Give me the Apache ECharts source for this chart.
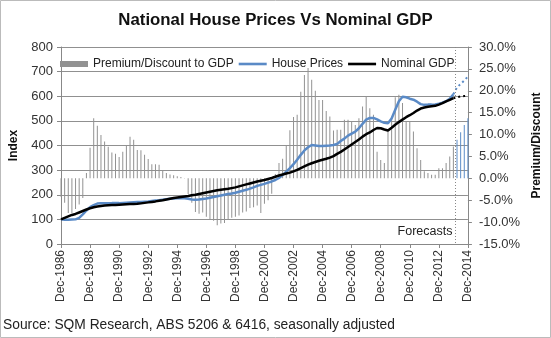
<!DOCTYPE html>
<html><head><meta charset="utf-8">
<script src="https://cdn.jsdelivr.net/npm/echarts@6/dist/echarts.min.js"></script>
<style>html,body{margin:0;padding:0;background:#fff}#c{width:551px;height:338px}</style>
</head><body><div id="c"></div>
<script>
const categories = ["Dec-1986",
"Mar-1987","Jun-1987","Sep-1987","Dec-1987","Mar-1988","Jun-1988","Sep-1988","Dec-1988",
"Mar-1989","Jun-1989","Sep-1989","Dec-1989","Mar-1990","Jun-1990","Sep-1990","Dec-1990",
"Mar-1991","Jun-1991","Sep-1991","Dec-1991","Mar-1992","Jun-1992","Sep-1992","Dec-1992",
"Mar-1993","Jun-1993","Sep-1993","Dec-1993","Mar-1994","Jun-1994","Sep-1994","Dec-1994",
"Mar-1995","Jun-1995","Sep-1995","Dec-1995","Mar-1996","Jun-1996","Sep-1996","Dec-1996",
"Mar-1997","Jun-1997","Sep-1997","Dec-1997","Mar-1998","Jun-1998","Sep-1998","Dec-1998",
"Mar-1999","Jun-1999","Sep-1999","Dec-1999","Mar-2000","Jun-2000","Sep-2000","Dec-2000",
"Mar-2001","Jun-2001","Sep-2001","Dec-2001","Mar-2002","Jun-2002","Sep-2002","Dec-2002",
"Mar-2003","Jun-2003","Sep-2003","Dec-2003","Mar-2004","Jun-2004","Sep-2004","Dec-2004",
"Mar-2005","Jun-2005","Sep-2005","Dec-2005","Mar-2006","Jun-2006","Sep-2006","Dec-2006",
"Mar-2007","Jun-2007","Sep-2007","Dec-2007","Mar-2008","Jun-2008","Sep-2008","Dec-2008",
"Mar-2009","Jun-2009","Sep-2009","Dec-2009","Mar-2010","Jun-2010","Sep-2010","Dec-2010",
"Mar-2011","Jun-2011","Sep-2011","Dec-2011","Mar-2012","Jun-2012","Sep-2012","Dec-2012",
"Mar-2013","Jun-2013","Sep-2013","Dec-2013","Mar-2014","Jun-2014","Sep-2014","Dec-2014"];

// Premium/Discount to GDP (%), quarterly; last 4 are forecasts
const premium = [-4.2,
-5.6,-7.9,-7.9,-7.0,-6.0,-4.5,1.2,7.0,
13.7,12.0,9.9,8.4,7.2,5.9,5.6,4.9,
6.1,7.4,9.5,8.8,6.5,6.4,5.4,4.4,
3.2,3.2,3.1,1.9,1.2,0.9,0.7,0.5,
0.3,0.1,-3.6,-5.6,-7.7,-8.1,-7.8,-8.8,
-9.5,-9.7,-10.7,-10.3,-10.2,-9.5,-9.0,-8.8,
-8.5,-7.8,-7.6,-6.8,-6.6,-6.2,-7.9,-5.8,
-5.0,-3.5,1.0,3.5,4.5,7.5,11.0,14.0,
14.5,19.8,23.6,25.2,22.5,20.0,17.9,17.9,
15.4,14.1,10.9,11.1,11.1,13.4,13.4,13.0,
12.2,13.7,16.4,18.7,16.0,14.5,6.1,4.2,
3.5,11.1,13.7,18.5,19.1,17.2,13.0,13.0,
10.7,6.9,4.2,1.6,1.2,0.8,0.8,2.3,
2.3,3.5,5.0,7.3,8.8,10.5,12.2,13.7];

const housePrices = [100,
98,98,99,100,106,120,136,150,
158,164,165,165,165,166,166,166,
167,168,169,170,171,171,172,173,
175,177,178,180,182,184,185,186,
187,186,184,181,180,181,183,185,
188,191,194,197,200,203,205,208,
212,216,220,225,230,236,240,244,
249,254,260,268,280,294,308,324,
342,362,380,393,402,400,398,398,
399,400,402,406,418,428,440,448,
456,470,488,505,512,512,506,498,
492,490,510,545,580,598,596,590,
586,578,568,565,566,566,567,570,
574,580,590,608,636,650,664,680,696];

const nominalGDP = [100,
106,112,118,122,128,134,140,145,
149,152,154,156,157,158,158,159,
160,161,162,162,163,165,167,169,
171,173,176,178,181,184,187,189,
191,193,195,198,200,203,206,209,
212,215,218,220,222,224,227,230,
234,238,242,246,250,254,257,260,
264,268,273,278,282,286,290,295,
301,308,315,322,328,333,338,342,
346,351,357,366,374,384,394,404,
414,424,436,446,453,463,471,470,
465,461,472,484,495,505,515,523,
532,542,550,554,557,559,561,566,
572,579,585,592,596,599,601,603];

const lastActual = 108; // Dec-2013
const leftTicks = {min:0, max:800, interval:100};
const rightTicks = {min:-15, max:30, interval:5};

const FONT = 'Liberation Sans';
const houseActual = housePrices.map((v,i)=> i<=lastActual ? v : null);
const houseFc = housePrices.map((v,i)=> i>=lastActual ? v : null);
const gdpActual = nominalGDP.map((v,i)=> i<=lastActual ? v : null);
const gdpFc = nominalGDP.map((v,i)=> i>=lastActual ? v : null);
const barData = premium.map((v,i)=> i>lastActual ? {value:v, itemStyle:{color:'#5b8cc8'}} : v);

const LINE_ICON = 'path://M0,0 L28,0 L28,2.6 L0,2.6 Z';
const chart = echarts.init(document.getElementById('c'), null, {renderer:'canvas'});
const option = {
  animation:false,
  backgroundColor:'#fff',
  textStyle:{fontFamily:FONT},
  title:{text:'National House Prices Vs Nominal GDP', left:'center', top:7,
    textStyle:{fontFamily:FONT, fontSize:16.8, fontWeight:'bold', color:'#111'}},
  legend:{left:55, top:53, itemWidth:28, itemHeight:6, itemGap:5,
    textStyle:{fontFamily:FONT, fontSize:12, color:'#222'},
    data:[{name:'Premium/Discount to GDP', icon:'rect'},
          {name:'House Prices', icon:LINE_ICON},
          {name:'Nominal GDP', icon:LINE_ICON}]},
  grid:{left:59, right:79, top:47, bottom:94, containLabel:false},
  xAxis:{type:'category', data:categories, boundaryGap:false,
    axisLine:{lineStyle:{color:'#888'}},
    axisTick:{interval:7, length:4, lineStyle:{color:'#888'}},
    axisLabel:{interval:7, rotate:90, margin:6, fontFamily:FONT, fontSize:12, color:'#333'}},
  yAxis:[
    {type:'value', min:leftTicks.min, max:leftTicks.max, interval:leftTicks.interval,
     name:'Index', nameLocation:'middle', nameGap:41, nameRotate:90,
     nameTextStyle:{fontFamily:FONT, fontSize:12, fontWeight:'bold', color:'#111'},
     axisLine:{show:true, lineStyle:{color:'#888'}},
     axisTick:{show:true, length:4, lineStyle:{color:'#888'}},
     axisLabel:{margin:8, fontFamily:FONT, fontSize:13, color:'#333'},
     splitLine:{show:true, lineStyle:{color:'#909090', width:1}}},
    {type:'value', min:rightTicks.min, max:rightTicks.max, interval:rightTicks.interval,
     position:'right',
     name:'Premium/Discount', nameLocation:'middle', nameGap:58, nameRotate:90,
     nameTextStyle:{fontFamily:FONT, fontSize:12, fontWeight:'bold', color:'#111'},
     axisLine:{show:true, lineStyle:{color:'#888'}},
     axisTick:{show:true, length:4, lineStyle:{color:'#888'}},
     axisLabel:{margin:11, fontFamily:FONT, fontSize:13, color:'#333',
       formatter:v=>v.toFixed(1)+'%'},
     splitLine:{show:false}}
  ],
  series:[
    {name:'Premium/Discount to GDP', type:'bar', yAxisIndex:1, data:barData,
     barWidth:1, itemStyle:{color:'#929292'}},
    {name:'House Prices', type:'line', data:houseActual, symbol:'none',
     lineStyle:{color:'#5a8ac6', width:2.5}, itemStyle:{color:'#5a8ac6'}, z:3},
    {name:'Nominal GDP', type:'line', data:gdpActual, symbol:'none',
     lineStyle:{color:'#000', width:2.5}, itemStyle:{color:'#000'}, z:4},
    {name:'House Prices fc', type:'line', data:houseFc, symbol:'none',
     lineStyle:{color:'#5a8ac6', width:2, type:[2,3]}, z:3},
    {name:'Nominal GDP fc', type:'line', data:gdpFc, symbol:'none',
     lineStyle:{color:'#000', width:2, type:[2,3]}, z:4}
  ]
};
chart.setOption(option);

const x108 = chart.convertToPixel({xAxisIndex:0}, categories[lastActual]);
const x109 = chart.convertToPixel({xAxisIndex:0}, categories[lastActual+1]);
const xf = Math.round((x108 + x109)/2) + 0.5;
const yTop = chart.convertToPixel({yAxisIndex:0}, leftTicks.max);
const yBot = chart.convertToPixel({yAxisIndex:0}, leftTicks.min);
chart.setOption({graphic:[
  {type:'line', shape:{x1:xf, y1:yTop, x2:xf, y2:yBot}, style:{stroke:'#888', lineWidth:1, lineDash:[1,2]}, z:10},
  {type:'text', style:{text:'Forecasts', x:xf-3, y:yBot-12, align:'right', verticalAlign:'middle',
    font:'12.5px "Liberation Sans"', fill:'#222'}, z:10},
  {type:'text', style:{text:'Source: SQM Research, ABS 5206 & 6416, seasonally adjusted', x:3, y:325,
    verticalAlign:'middle', font:'13.8px "Liberation Sans"', fill:'#222'}, z:10},
  {type:'rect', shape:{x:0.5, y:0.5, width:550, height:337}, style:{fill:'none', stroke:'#bbb', lineWidth:1}, z:0}
]});
</script>
</body></html>
